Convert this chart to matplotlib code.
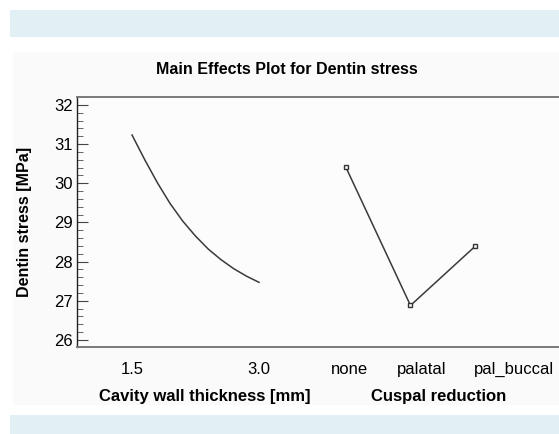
import matplotlib.pyplot as plt
from matplotlib.patches import Rectangle
from matplotlib.ticker import MultipleLocator

plt.rcParams['font.family'] = ['Liberation Sans', 'DejaVu Sans']

# main effect of cavity wall thickness
thickness = [1.5, 1.65, 1.8, 1.95, 2.1, 2.25, 2.4, 2.55, 2.7, 2.85, 3.0]
stress_thickness = [31.23, 30.60, 30.01, 29.48, 29.03, 28.65, 28.32, 28.05, 27.82, 27.63, 27.47]
thickness_ticks = [1.5, 3.0]
thickness_labels = ['1.5', '3.0']

# main effect of cuspal reduction
cuspal_levels = ['none', 'palatal', 'pal_buccal']
stress_cuspal = [30.41, 26.88, 28.39]

W, H = 559, 434
fig = plt.figure(figsize=(W / 100, H / 100), dpi=100, facecolor='white')

# background bands
fig.add_artist(Rectangle((10 / W, 1 - 37 / H), 1, 27 / H, transform=fig.transFigure,
                         facecolor='#e2f0f6', edgecolor='none', zorder=0))
fig.add_artist(Rectangle((10 / W, 0), 1, 19 / H, transform=fig.transFigure,
                         facecolor='#e2f0f6', edgecolor='none', zorder=0))
fig.add_artist(Rectangle((13 / W, 1 - 405 / H), 1, 353 / H, transform=fig.transFigure,
                         facecolor='#fafafa', edgecolor='none', zorder=0))

ylim = (25.82, 32.2)
bottom = 1 - 347 / H
height = 250 / H

# frame axes
ax = fig.add_axes([77 / W, bottom, (580 - 77) / W, height])
ax.set_facecolor('#fcfcfc')
ax.set_ylim(ylim)
ax.set_xticks([])
ax.yaxis.set_major_locator(MultipleLocator(1))
ax.yaxis.set_minor_locator(MultipleLocator(0.2))
ax.tick_params(axis='y', which='major', direction='in', length=8, width=0.8,
               color='#444444', labelsize=12, pad=3)
ax.tick_params(axis='y', which='minor', direction='in', length=4, width=0.7, color='#666666')
for s in ['top', 'bottom', 'right']:
    ax.spines[s].set_color('#7a7a7a')
    ax.spines[s].set_linewidth(1.4)
ax.spines['left'].set_color('#222222')
ax.spines['left'].set_linewidth(1.0)
ax.set_ylabel('Dentin stress [MPa]', fontsize=11.5, fontweight='bold', labelpad=16)

# left panel: cavity wall thickness
ax1 = fig.add_axes([77 / W, bottom, (300 - 77) / W, height])
ax1.patch.set_visible(False)
ax1.set_ylim(ylim)
ax1.set_xlim(0.850, 3.484)
ax1.plot(thickness, stress_thickness, color='#3a3a3a', lw=1.1)
ax1.set_xticks(thickness_ticks, thickness_labels)
ax1.tick_params(axis='x', length=0, labelsize=12, pad=11)
ax1.set_yticks([])
for s in ax1.spines.values():
    s.set_visible(False)
ax1.set_xlabel('Cavity wall thickness [mm]', fontsize=12, fontweight='bold')

# right panel: cuspal reduction
ax2 = fig.add_axes([300 / W, bottom, (580 - 300) / W, height])
ax2.patch.set_visible(False)
ax2.set_ylim(ylim)
ax2.set_xlim(-0.709, 3.622)
x_pos = range(len(cuspal_levels))
ax2.plot(x_pos, stress_cuspal, color='#3a3a3a', lw=1.1, marker='s', ms=3.5,
         mfc='#fafafa', mec='#333333', mew=1)
ax2.set_xticks([0.05, 1.18, 2.6], cuspal_levels)
ax2.tick_params(axis='x', length=0, labelsize=12, pad=11)
ax2.set_yticks([])
for s in ax2.spines.values():
    s.set_visible(False)
ax2.set_xlabel('Cuspal reduction', fontsize=12, fontweight='bold')
ax2.xaxis.set_label_coords((439 - 300) / (580 - 300), -0.17)
ax1.xaxis.set_label_coords((205 - 77) / (300 - 77), -0.17)

fig.text(287 / W, 1 - 69 / H, 'Main Effects Plot for Dentin stress', fontsize=11.5,
         fontweight='bold', ha='center', va='center')

fig.savefig('out.png', dpi=100, facecolor=fig.get_facecolor())
